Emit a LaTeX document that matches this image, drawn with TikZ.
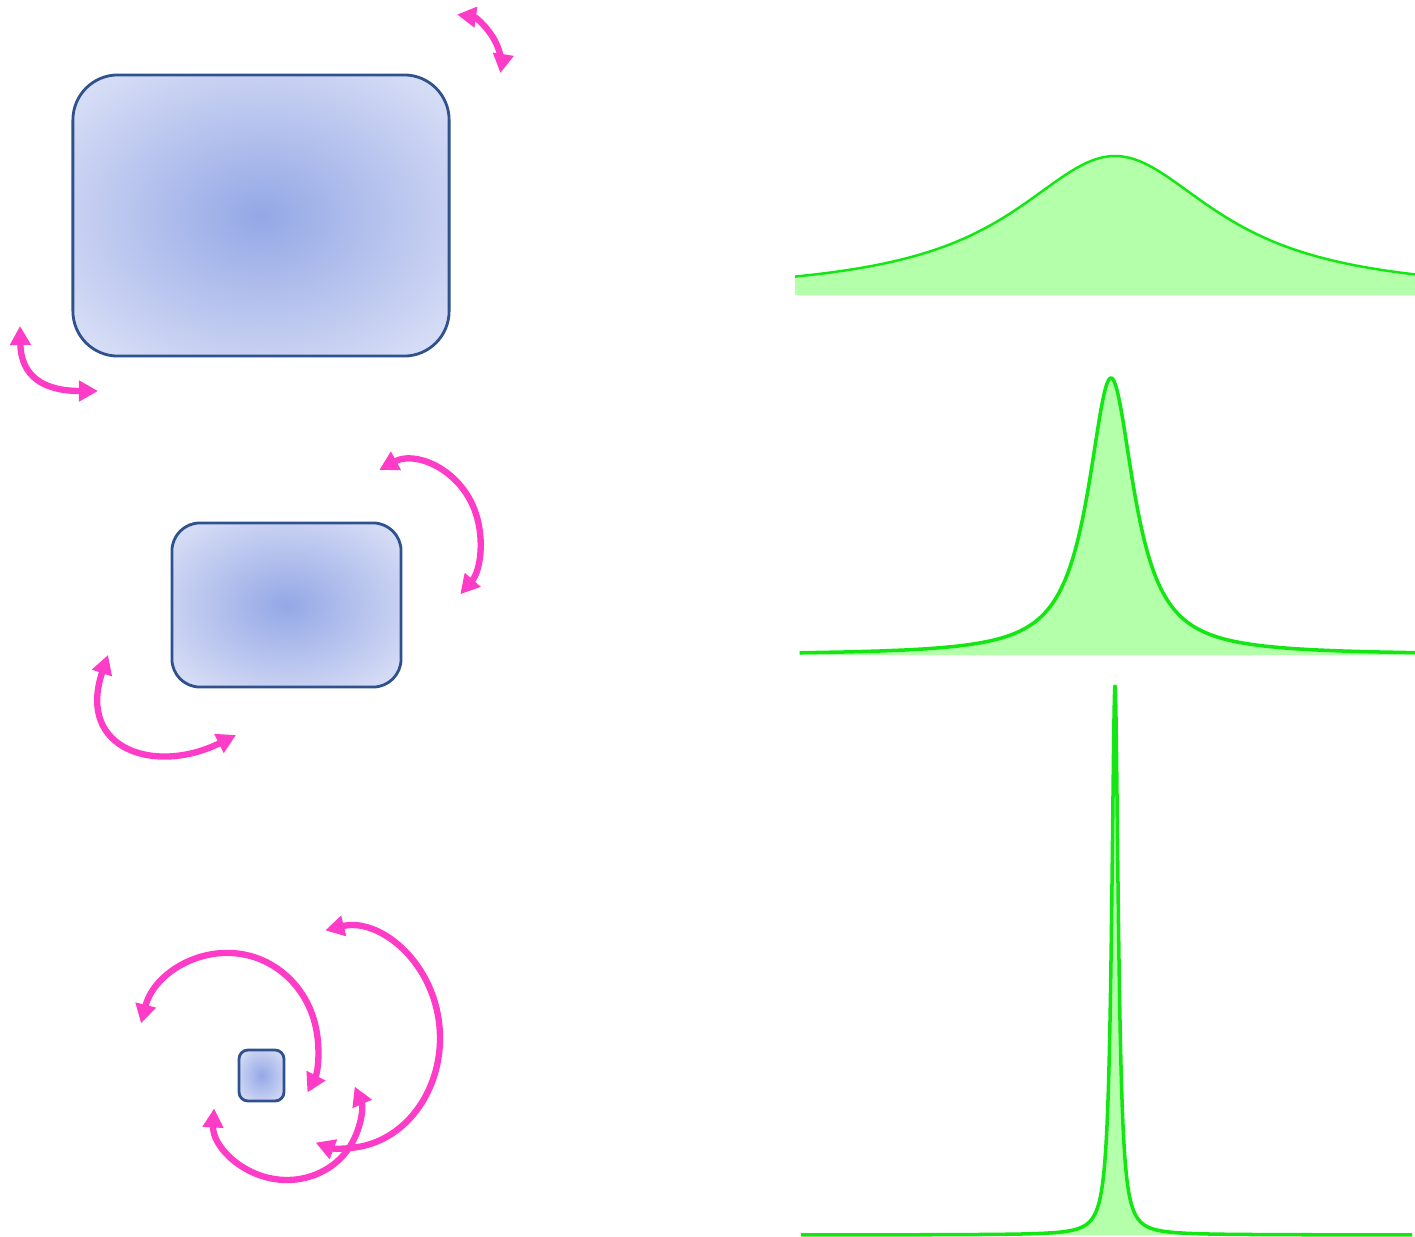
\documentclass[tikz,border=0pt]{standalone}
\usetikzlibrary{arrows.meta}

\definecolor{boxcore}{RGB}{148,168,230}
\definecolor{boxmid}{RGB}{200,209,242}
\definecolor{boxrim}{RGB}{222,228,248}
\definecolor{boxline}{RGB}{47,82,143}
\definecolor{spinpink}{RGB}{255,60,200}
\definecolor{peakline}{RGB}{20,230,20}
\definecolor{peakfill}{RGB}{180,255,170}
\pgfdeclareradialshading{boxglow}{\pgfpoint{0bp}{0bp}}{color(0bp)=(boxcore); color(25bp)=(boxmid); color(36bp)=(boxrim); color(50bp)=(boxrim)}

\begin{document}
\begin{tikzpicture}[x=0.01cm, y=-0.01cm,
    box/.style={draw=boxline, line width=0.8pt, shading=boxglow, inner sep=0pt},
    spin/.style={draw=spinpink, line width=1.8pt, {Triangle[length=1.9mm, width=2mm]}-{Triangle[length=1.9mm, width=2mm]}},
    curve/.style={draw=peakline, line join=round},
    area/.style={fill=peakfill}
]
\useasboundingbox (0,0) rectangle (1415,1236);

% boxes
\node[box, minimum width=3.76cm, minimum height=2.81cm, rounded corners=4.5mm] (bigbox) at (261,215.5) {};
\node[box, minimum width=2.29cm, minimum height=1.64cm, rounded corners=2.8mm] (midbox) at (286.5,605) {};
\node[box, minimum width=0.45cm, minimum height=0.51cm, rounded corners=0.9mm] (smallbox) at (261.5,1075.5) {};

% rotation arrows, top
\draw[spin] (450,65) ++(-82:51) arc[start angle=-82, end angle=9, radius=51];
\draw[spin] (20,326) .. controls (21,376) and (43,391) .. (98,391);

% rotation arrows, middle
\draw[spin] (410,540) ++(-116:70 and 78) arc[start angle=-116, end angle=44, x radius=70, y radius=78];
\draw[spin] (108,655) .. controls (76,750) and (156,775) .. (236,735);

% rotation arrows, bottom
\draw[spin] (228,1048) ++(-165:90 and 95) arc[start angle=-165, end angle=28, x radius=90, y radius=95];
\draw[spin] (345,1038) ++(-102:95 and 110) arc[start angle=-102, end angle=108, x radius=95, y radius=110];
\draw[spin] (287,1112) ++(183:73 and 68) arc[start angle=183, end angle=-22, x radius=73, y radius=68];

% spectra
\fill[area] plot[domain=-68.66:67.38, samples=120] ({1115+125*tan(\x)}, {295-139*(cos(\x))^2}) -- (1415,295) -- (795,295) -- cycle;
\draw[curve, line width=0.7pt] plot[domain=-68.66:67.38, samples=120] ({1115+125*tan(\x)}, {295-139*(cos(\x))^2});

\fill[area] plot[domain=-84.86:84.74, samples=200] ({1111+28*tan(\x)}, {655-277*(cos(\x))^2}) -- (1415,655) -- (800,655) -- cycle;
\draw[curve, line width=1pt] plot[domain=-84.86:84.74, samples=200] ({1111+28*tan(\x)}, {655-277*(cos(\x))^2});

\fill[area] plot[domain=-89.27:89.23, samples=300] ({1115+4*tan(\x)}, {1235-549*(cos(\x))^2}) -- (1415,1235) -- (803,1235) -- cycle;
\draw[curve, line width=1pt] plot[domain=-89.27:89.23, samples=300] ({1115+4*tan(\x)}, {1235-549*(cos(\x))^2});

\end{tikzpicture}
\end{document}
